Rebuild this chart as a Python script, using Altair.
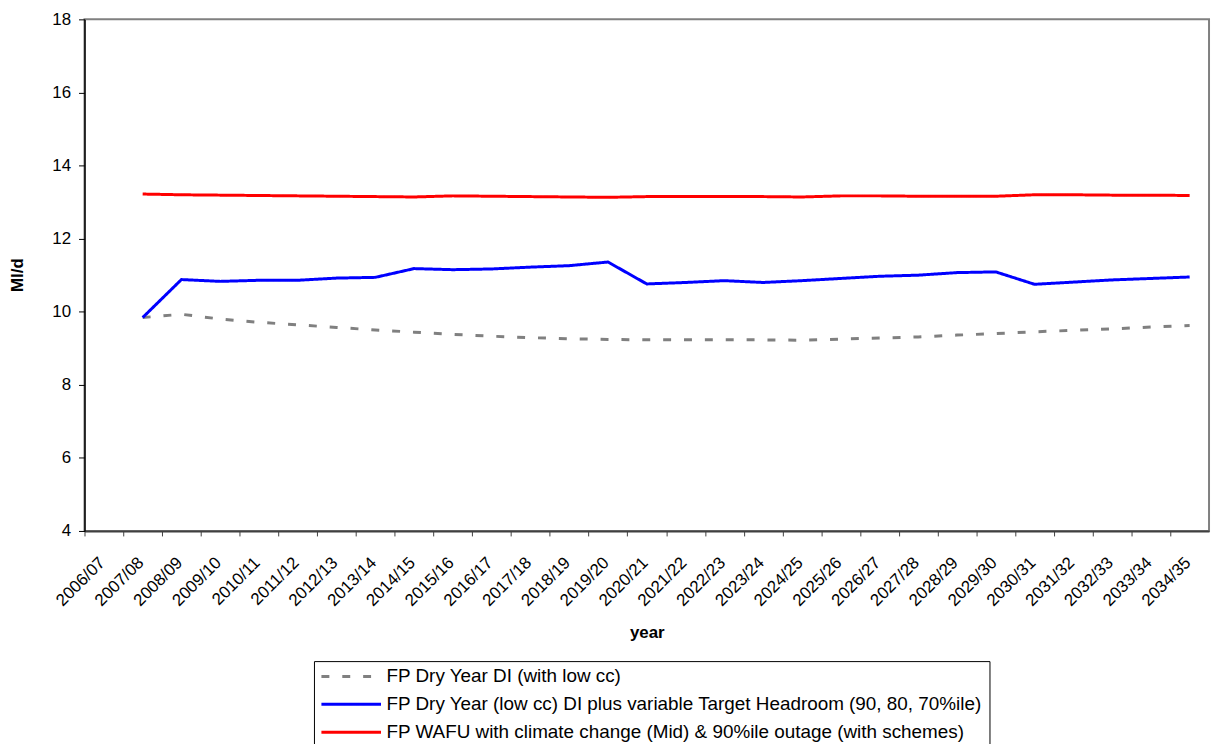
import altair as alt
import pandas as pd

years = ["2006/07", "2007/08", "2008/09", "2009/10", "2010/11", "2011/12", "2012/13",
         "2013/14", "2014/15", "2015/16", "2016/17", "2017/18", "2018/19", "2019/20",
         "2020/21", "2021/22", "2022/23", "2023/24", "2024/25", "2025/26", "2026/27",
         "2027/28", "2028/29", "2029/30", "2030/31", "2031/32", "2032/33", "2033/34",
         "2034/35"]

series_names = [
    "FP Dry Year DI (with low cc)",
    "FP Dry Year (low cc) DI plus variable Target Headroom (90, 80, 70%ile)",
    "FP WAFU with climate change (Mid) & 90%ile outage (with schemes)",
]

# values from 2007/08 to 2034/35
dry_year_di = [9.84, 9.93, 9.80, 9.71, 9.64, 9.57, 9.50, 9.44, 9.38, 9.33, 9.29, 9.26,
               9.24, 9.23, 9.23, 9.23, 9.23, 9.22, 9.25, 9.28, 9.31, 9.36, 9.40, 9.45,
               9.49, 9.53, 9.58, 9.62]
headroom = [9.84, 10.88, 10.83, 10.86, 10.86, 10.92, 10.94, 11.18, 11.15, 11.17, 11.22,
            11.26, 11.36, 10.76, 10.80, 10.85, 10.80, 10.85, 10.91, 10.97, 11.00, 11.07,
            11.09, 10.75, 10.81, 10.87, 10.91, 10.95]
wafu = [13.22, 13.20, 13.19, 13.18, 13.17, 13.16, 13.15, 13.14, 13.17, 13.16, 13.15,
        13.14, 13.13, 13.15, 13.15, 13.15, 13.15, 13.14, 13.17, 13.17, 13.16, 13.16,
        13.16, 13.20, 13.20, 13.19, 13.19, 13.18]

y_ticks = [4, 6, 8, 10, 12, 14, 16, 18]
colors = ["#808080", "#0000FF", "#FF0000"]
dashes = [[8, 13], [1, 0], [1, 0]]

rows = []
for name, vals in zip(series_names, [dry_year_di, headroom, wafu]):
    for yr, v in zip(years[1:], vals):
        rows.append({"year": yr, "value": v, "series": name})
df = pd.DataFrame(rows)

W, H = 1132, 515
step = W / len(years)
FONT = "Liberation Sans"

legend = alt.Legend(
    orient="none", legendX=231, legendY=646, title=None, padding=6,
    strokeColor="black", symbolType="stroke", symbolSize=3600,
    symbolStrokeWidth=3, clipHeight=19, labelFontSize=19, labelFont=FONT,
    labelLimit=1000, rowPadding=8, labelOffset=4, labelColor="black",
)

chart = alt.Chart(df).mark_line(strokeWidth=3).encode(
    x=alt.X(
        "year:O",
        sort=years,
        scale=alt.Scale(type="point", domain=years, padding=0.5),
        axis=alt.Axis(
            title="year", labelAngle=-45, labelAlign="right", labelBaseline="middle",
            tickOffset=-step / 2, labelOffset=step / 2 - 2, tickSize=5,
            labelPadding=24, labelFontSize=17, labelFont=FONT, labelColor="black",
            tickColor="#404040", domainColor="#404040", domainWidth=2,
            titleFontSize=17, titleFont=FONT, titleFontWeight="bold",
            titleColor="black", titleBaseline="alphabetic", titleY=107,
            labelOverlap=False,
        ),
    ),
    y=alt.Y(
        "value:Q",
        scale=alt.Scale(domain=[4, 18], nice=False, zero=False),
        axis=alt.Axis(
            title="Ml/d", values=y_ticks, grid=False, tickSize=6, labelPadding=8,
            labelFontSize=17, labelFont=FONT, labelColor="black", tickColor="black",
            domainColor="black", domainWidth=1.5, titleFontSize=17, titleFont=FONT,
            titleFontWeight="bold", titleColor="black", titleAngle=-90,
            titleAlign="center", titleBaseline="middle", titleX=-67, titleY=257,
        ),
    ),
    color=alt.Color("series:N", scale=alt.Scale(domain=series_names, range=colors),
                    legend=legend),
    strokeDash=alt.StrokeDash("series:N",
                              scale=alt.Scale(domain=series_names, range=dashes),
                              legend=legend),
).properties(
    width=W, height=H, autosize="none",
    padding={"left": 77, "top": 9, "right": 4, "bottom": 212},
).configure_view(stroke="#808080", strokeWidth=2)

chart.save("out.html", embed_options={"renderer": "svg", "actions": False})
